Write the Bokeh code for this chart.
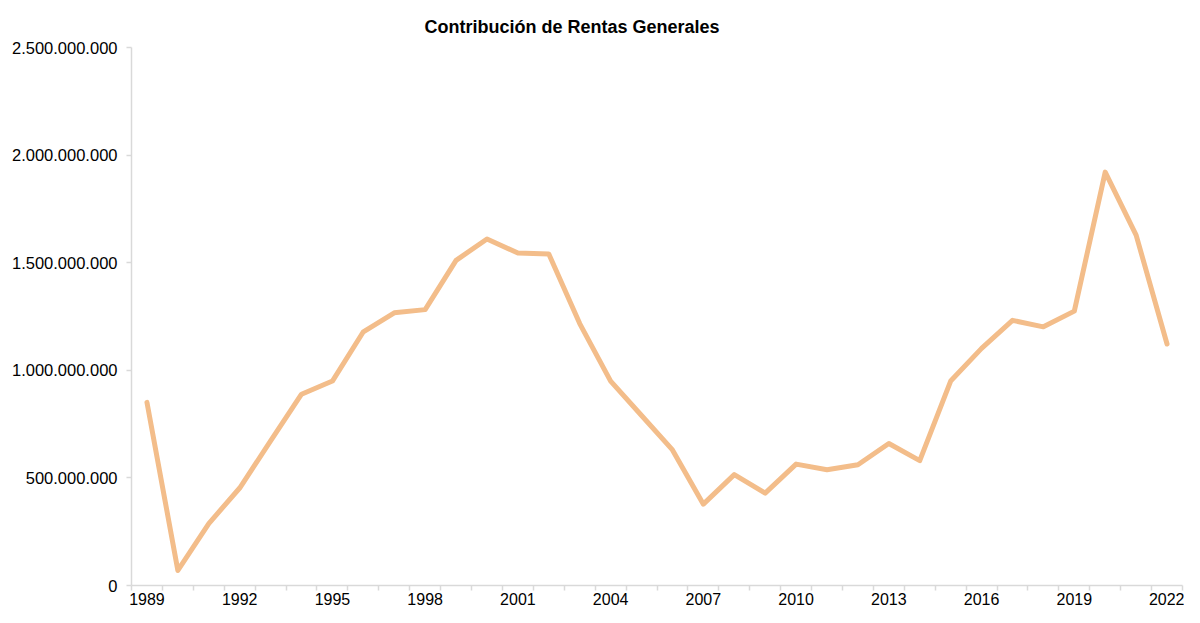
from bokeh.plotting import figure
from bokeh.models import ColumnDataSource, Range1d, FixedTicker
from bokeh.embed import file_html
from bokeh.resources import INLINE

title_text = "Contribución de Rentas Generales"
years = list(range(1989, 2023))
values = [851e6, 70e6, 288e6, 453e6, 672e6, 889e6, 950e6, 1179e6, 1267e6, 1282e6,
          1511e6, 1610e6, 1545e6, 1540e6, 1217e6, 950e6, 790e6, 630e6, 378e6, 515e6,
          429e6, 564e6, 538e6, 561e6, 660e6, 580e6, 950e6, 1102e6, 1232e6, 1202e6,
          1275e6, 1921e6, 1628e6, 1122e6]
label_years = years[::3]
y_ticks = [0, 500000000, 1000000000, 1500000000, 2000000000, 2500000000]

FONT = "Liberation Sans"
AXIS_GREY = "#d9d9d9"

source = ColumnDataSource(dict(year=years, value=values))

p = figure(width=1184, height=607, output_backend="svg", toolbar_location=None,
           x_range=Range1d(years[0] - 0.5, years[-1] + 0.5),
           y_range=Range1d(y_ticks[0], y_ticks[-1]),
           min_border_left=131, min_border_right=2, min_border_top=47, min_border_bottom=20)

p.title.text = title_text
p.title.align = "left"
p.title.offset = 293
p.title.standoff = 21
p.title.text_font = FONT
p.title.text_font_size = "18px"
p.title.text_font_style = "bold"
p.title.text_color = "#000000"

p.line(x="year", y="value", source=source, line_color="#F3BD8A", line_width=5,
       line_join="round", line_cap="round")

p.xgrid.grid_line_color = None
p.ygrid.grid_line_color = None
p.outline_line_color = None

bounds = [y - 0.5 for y in years] + [years[-1] + 0.5]
xa = p.xaxis[0]
xa.ticker = FixedTicker(ticks=label_years, minor_ticks=bounds)
xa.major_label_overrides = {y: str(y) for y in label_years}
xa.major_tick_line_color = None
xa.major_tick_out = 5
xa.minor_tick_line_color = AXIS_GREY
xa.minor_tick_out = 5
xa.minor_tick_in = 0
xa.minor_tick_line_width = 1.5
xa.axis_line_color = AXIS_GREY
xa.axis_line_width = 1.5
xa.major_label_text_font = FONT
xa.major_label_text_font_size = "16px"
xa.major_label_text_color = "#000000"
xa.major_label_standoff = 2

ya = p.yaxis[0]
ya.ticker = FixedTicker(ticks=y_ticks, minor_ticks=[])
ya.major_label_overrides = {t: f"{t:,}".replace(",", ".") for t in y_ticks}
ya.major_tick_line_color = AXIS_GREY
ya.major_tick_line_width = 1.5
ya.major_tick_out = 5
ya.major_tick_in = 0
ya.minor_tick_line_color = None
ya.axis_line_color = AXIS_GREY
ya.axis_line_width = 1.5
ya.major_label_text_font = FONT
ya.major_label_text_font_size = "16.5px"
ya.major_label_text_color = "#000000"
ya.major_label_standoff = 9

open("out.html", "w").write(file_html(p, INLINE))
